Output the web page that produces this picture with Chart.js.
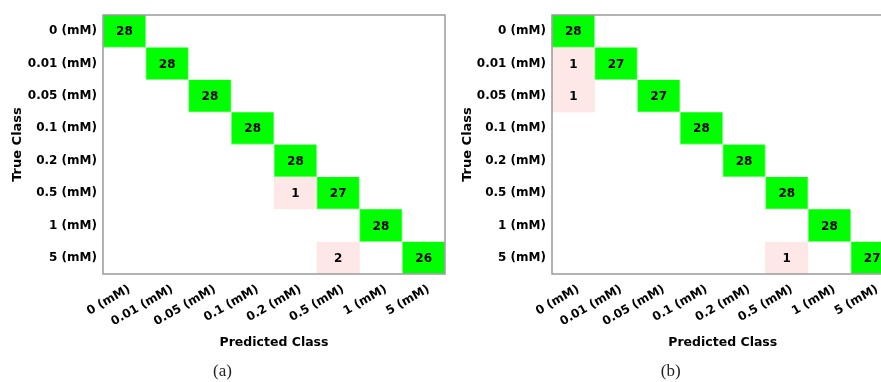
<!DOCTYPE html>
<html>
<head>
  <title>Confusion matrices</title>
  <style>
    body {
      margin: 0;
      background: #fff;
      overflow: hidden;
    }
    .panel {
      position: absolute;
      top: 0;
    }
  </style>
</head>
<body>
  <canvas id="chartA" class="panel" style="left:0px" width="448" height="382"></canvas>
  <canvas id="chartB" class="panel" style="left:448px" width="448" height="382"></canvas>

  <script src="https://cdn.jsdelivr.net/npm/chart.js"></script>
  <script>
    // class names, used for both axes
    const classes = ['0 (mM)', '0.01 (mM)', '0.05 (mM)', '0.1 (mM)', '0.2 (mM)', '0.5 (mM)', '1 (mM)', '5 (mM)'];

    // rows = true class, columns = predicted class
    const matrixA = [
      [28, 0, 0, 0, 0, 0, 0, 0],
      [0, 28, 0, 0, 0, 0, 0, 0],
      [0, 0, 28, 0, 0, 0, 0, 0],
      [0, 0, 0, 28, 0, 0, 0, 0],
      [0, 0, 0, 0, 28, 0, 0, 0],
      [0, 0, 0, 0, 1, 27, 0, 0],
      [0, 0, 0, 0, 0, 0, 28, 0],
      [0, 0, 0, 0, 0, 2, 0, 26]
    ];
    const matrixB = [
      [28, 0, 0, 0, 0, 0, 0, 0],
      [1, 27, 0, 0, 0, 0, 0, 0],
      [1, 0, 27, 0, 0, 0, 0, 0],
      [0, 0, 0, 28, 0, 0, 0, 0],
      [0, 0, 0, 0, 28, 0, 0, 0],
      [0, 0, 0, 0, 0, 28, 0, 0],
      [0, 0, 0, 0, 0, 0, 28, 0],
      [0, 0, 0, 0, 0, 1, 0, 27]
    ];

    const GREEN = '#00ff00';
    const PINK = '#fde7e7';

    Chart.defaults.font.family = '"DejaVu Sans", sans-serif';
    Chart.defaults.color = '#000';

    // write the count in the middle of every cell
    const cellText = {
      id: 'cellText',
      afterDatasetsDraw(chart) {
        const ctx = chart.ctx;
        ctx.save();
        ctx.font = 'bold 12px "DejaVu Sans"';
        ctx.fillStyle = '#000';
        ctx.textAlign = 'center';
        ctx.textBaseline = 'middle';
        chart.data.datasets.forEach((ds, i) => {
          chart.getDatasetMeta(i).data.forEach((el, j) => {
            if (!ds.data[j]) return;
            ctx.fillText(ds.counts[j], el.x, (el.y + el.base) / 2 + 1);
          });
        });
        ctx.restore();
      }
    };

    // grey frame round the plot
    const frame = {
      id: 'frame',
      afterDraw(chart) {
        const a = chart.chartArea;
        const ctx = chart.ctx;
        ctx.save();
        ctx.strokeStyle = '#9a9a9a';
        ctx.lineWidth = 1.5;
        ctx.strokeRect(a.left, a.top, a.right - a.left, a.bottom - a.top);
        ctx.restore();
      }
    };

    function makeChart(id, matrix, caption, yWidth, padRight, yTitlePad) {
      const datasets = matrix.map((row, i) => ({
        counts: row,
        data: row.map(v => v > 0 ? [i, i + 1] : null),
        backgroundColor: row.map((v, j) => j === i ? GREEN : PINK),
        borderColor: row.map((v, j) => j === i ? '#7dff7d' : PINK),
        borderWidth: 1,
        grouped: false,
        barPercentage: 1,
        categoryPercentage: 1
      }));

      return new Chart(document.getElementById(id), {
        type: 'bar',
        data: { labels: classes, datasets },
        options: {
          responsive: false,
          animation: false,
          devicePixelRatio: 1,
          layout: { padding: { top: 15, right: padRight, left: 0, bottom: 0 } },
          plugins: {
            legend: { display: false },
            tooltip: { enabled: false },
            title: {
              display: true,
              text: caption,
              position: 'bottom',
              color: '#222',
              font: { family: '"Liberation Serif", serif', size: 17, weight: 'normal' },
              padding: { top: 0, bottom: 0 }
            }
          },
          scales: {
            x: {
              type: 'category',
              grid: { display: false, drawTicks: false },
              border: { display: false },
              ticks: {
                autoSkip: false,
                minRotation: 30,
                maxRotation: 30,
                padding: 8,
                labelOffset: 5,
                font: { size: 12, weight: 'bold' }
              },
              title: {
                display: true,
                text: 'Predicted Class',
                font: { size: 12.5, weight: 'bold' },
                padding: { top: 0, bottom: 11 }
              },
              afterFit(scale) { scale.height = 87.6; }
            },
            y: {
              type: 'linear',
              min: 0,
              max: 8,
              reverse: true,
              grid: { display: false, drawTicks: false },
              border: { display: false },
              afterBuildTicks(scale) {
                scale.ticks = classes.map((c, i) => ({ value: i + 0.5 }));
              },
              ticks: {
                autoSkip: false,
                padding: 6,
                font: { size: 12, weight: 'bold' },
                callback: (value, index) => classes[index]
              },
              title: {
                display: true,
                text: 'True Class',
                font: { size: 13, weight: 'bold' },
                padding: { top: yTitlePad, bottom: 0 }
              },
              afterFit(scale) { scale.width = yWidth; }
            }
          }
        },
        plugins: [cellText, frame]
      });
    }

    makeChart('chartA', matrixA, '(a)', 103, 3, 10);
    makeChart('chartB', matrixB, '(b)', 104, 2.5, 12);
  </script>
</body>
</html>
